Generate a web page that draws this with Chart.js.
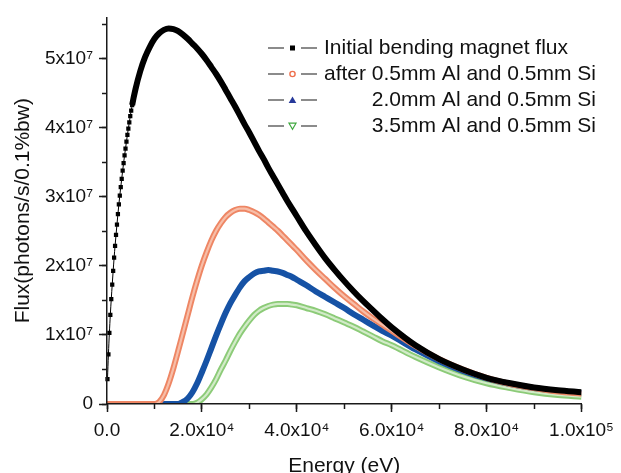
<!DOCTYPE html>
<html>
<head>
<meta charset="utf-8">
<title>Bending magnet flux</title>
<script src="https://cdn.jsdelivr.net/npm/chart.js@4.4.1/dist/chart.umd.min.js"></script>
<style>
  html, body { margin: 0; padding: 0; background: #fff; }
  #wrap { width: 621px; height: 473px; position: relative; }
</style>
</head>
<body>
<div id="wrap"><canvas id="fluxChart"></canvas></div>
<script>
// flux values are given in units of 1e7 photons/s/0.1%bw
const FLUX_UNIT = 1e7;

// initial bending magnet flux (squares are 200 eV apart at low energy)
const energyInitial = [
    100, 300, 500, 700, 900, 1100, 1300, 1500, 1700, 1900, 2100, 2300, 2500, 2700,
    2900, 3100, 3300, 3500, 3700, 3900, 4100, 4300, 4500, 4700, 4900, 5100, 5300,
    6000, 7000, 8000, 9000, 10000, 11000, 12000, 13000, 14000, 15000, 16000, 17000,
    18000, 19000, 20000, 21000, 22000, 23000, 24000, 25000, 26000, 27000, 28000,
    29000, 30000, 31000, 32000, 33000, 34000, 35000, 36000, 37000, 38000, 39000, 40000,
    42000, 44000, 46000, 48000, 50000, 52000, 54000, 56000, 58000, 60000,
    65000, 70000, 75000, 80000, 85000, 90000, 95000, 100000
];
const fluxInitial = [
    0.36, 0.72, 1.03, 1.29, 1.52, 1.73, 1.93, 2.12, 2.29, 2.45, 2.60, 2.75, 2.89, 3.02,
    3.14, 3.26, 3.38, 3.49, 3.60, 3.70, 3.80, 3.90, 3.99, 4.08, 4.17, 4.25, 4.33,
    4.56, 4.82, 5.02, 5.17, 5.29, 5.37, 5.42, 5.44, 5.43, 5.40, 5.35, 5.29,
    5.22, 5.15, 5.07, 4.98, 4.88, 4.78, 4.67, 4.55, 4.43, 4.31, 4.18,
    4.05, 3.93, 3.80, 3.67, 3.55, 3.42, 3.30, 3.18, 3.06, 2.94, 2.83, 2.72,
    2.50, 2.30, 2.11, 1.94, 1.78, 1.63, 1.49, 1.36, 1.23, 1.11,
    0.85, 0.65, 0.50, 0.38, 0.30, 0.24, 0.20, 0.17
];

// filtered spectra share one energy grid
const energyFiltered = [
    0, 10000, 11000, 12000, 13000, 14000, 15000, 16000, 17000, 18000, 19000, 20000,
    21000, 22000, 23000, 24000, 25000, 26000, 27000, 28000, 29000, 30000,
    31000, 32000, 33000, 34000, 35000, 36000, 37000, 38000, 39000, 40000,
    42000, 44000, 46000, 48000, 50000, 52000, 54000, 56000, 58000, 60000,
    65000, 70000, 75000, 80000, 85000, 90000, 95000, 100000
];
const fluxAl05 = [
    0, 0, 0.03, 0.13, 0.30, 0.52, 0.77, 1.03, 1.29, 1.55, 1.79, 2.01,
    2.20, 2.37, 2.51, 2.62, 2.71, 2.77, 2.81, 2.83, 2.83, 2.81,
    2.78, 2.74, 2.69, 2.63, 2.57, 2.51, 2.44, 2.37, 2.30, 2.23,
    2.08, 1.94, 1.81, 1.68, 1.56, 1.45, 1.34, 1.24, 1.15, 1.06,
    0.84, 0.65, 0.50, 0.38, 0.29, 0.23, 0.18, 0.15
];
const fluxAl20 = [
    0, 0, 0, 0, 0, 0, 0, 0.03, 0.08, 0.17, 0.30, 0.46,
    0.63, 0.81, 0.99, 1.16, 1.32, 1.46, 1.58, 1.69, 1.78, 1.84,
    1.89, 1.92, 1.93, 1.94, 1.93, 1.92, 1.90, 1.87, 1.84, 1.80,
    1.72, 1.63, 1.55, 1.47, 1.39, 1.30, 1.22, 1.14, 1.06, 0.99,
    0.79, 0.62, 0.48, 0.37, 0.29, 0.23, 0.19, 0.16
];
const fluxAl35 = [
    0, 0, 0, 0, 0, 0, 0, 0, 0, 0, 0.02, 0.07,
    0.14, 0.24, 0.36, 0.50, 0.63, 0.77, 0.90, 1.02, 1.12, 1.21,
    1.29, 1.35, 1.39, 1.42, 1.44, 1.45, 1.45, 1.45, 1.44, 1.43,
    1.39, 1.35, 1.30, 1.24, 1.18, 1.12, 1.05, 0.98, 0.91, 0.85,
    0.68, 0.53, 0.40, 0.30, 0.23, 0.17, 0.13, 0.105
];

const seriesNames = [
    'Initial bending magnet flux',
    'after 0.5mm Al and 0.5mm Si',
    '2.0mm Al and 0.5mm Si',
    '3.5mm Al and 0.5mm Si'
];
// axis ticks
const xTickValues = [0, 20000, 40000, 60000, 80000, 100000];
const xTickLabels = ['0.0', '2.0x10\u2074', '4.0x10\u2074', '6.0x10\u2074', '8.0x10\u2074', '1.0x10\u2075'];
const xMinorValues = [0, 10000, 20000, 30000, 40000, 50000, 60000, 70000, 80000, 90000, 100000];
const yTickValues = [0, 1e7, 2e7, 3e7, 4e7, 5e7];
const yTickLabels = ['0', '1x10\u2077', '2x10\u2077', '3x10\u2077', '4x10\u2077', '5x10\u2077'];
const yMinorValues = [0, 0.5e7, 1e7, 1.5e7, 2e7, 2.5e7, 3e7, 3.5e7, 4e7, 4.5e7, 5e7, 5.5e7];

const FONT = "'Liberation Sans', Arial, Helvetica, sans-serif";
const AXIS_COLOR = '#1a1a1a';
const TEXT_COLOR = '#111';
const SQUARE_LIMIT = 5300; // below this energy the black squares are seen one by one

const toPoints = (xs, ys) => xs.map((x, i) => ({ x: x, y: ys[i] * FLUX_UNIT }));
const fixedTicks = values => scale => { scale.ticks = values.map(v => ({ value: v })); };
// keep the bands from spilling under the x axis
const bandClip = { left: 6, top: 6, right: 0, bottom: 0 };

function band(data, color, width) {
    return {
        data: data,
        borderColor: color,
        borderWidth: width,
        pointRadius: 0,
        cubicInterpolationMode: 'monotone',
        clip: bandClip
    };
}

const datasets = [
    {
        data: toPoints(energyInitial, fluxInitial),
        borderColor: '#000',
        borderWidth: 6,
        segment: {
            borderWidth: c => energyInitial[c.p1DataIndex] <= SQUARE_LIMIT ? 1 : 6
        },
        pointStyle: 'rect',
        pointRadius: c => energyInitial[c.dataIndex] <= SQUARE_LIMIT ? 3 : 0,
        pointBackgroundColor: '#000',
        pointBorderWidth: 0,
        cubicInterpolationMode: 'monotone',
        clip: bandClip
    },
    // hollow circles -> light core inside an orange band
    band(toPoints(energyFiltered, fluxAl05), '#f7bea8', 2.2),
    band(toPoints(energyFiltered, fluxAl05), '#ee8664', 6),
    band(toPoints(energyFiltered, fluxAl20), '#1652a5', 6),
    // hollow down triangles -> light core inside a green band
    band(toPoints(energyFiltered, fluxAl35), '#d2ebc8', 2.2),
    band(toPoints(energyFiltered, fluxAl35), '#8ccb78', 6)
];

// legend drawn like the Origin one: "— marker —  text"
const legendMarkers = [
    (ctx, x, y) => { ctx.fillStyle = '#000'; ctx.fillRect(x - 2.5, y - 2.5, 5, 5); },
    (ctx, x, y) => {
        ctx.strokeStyle = '#ee6f4c'; ctx.lineWidth = 1.4;
        ctx.beginPath(); ctx.arc(x, y, 2.6, 0, Math.PI * 2); ctx.stroke();
    },
    (ctx, x, y) => {
        ctx.fillStyle = '#26399a';
        ctx.beginPath(); ctx.moveTo(x, y - 3.5); ctx.lineTo(x + 3.8, y + 3); ctx.lineTo(x - 3.8, y + 3);
        ctx.closePath(); ctx.fill();
    },
    (ctx, x, y) => {
        ctx.strokeStyle = '#3fa83f'; ctx.lineWidth = 1.2;
        ctx.beginPath(); ctx.moveTo(x - 3.5, y - 2.8); ctx.lineTo(x + 3.5, y - 2.8); ctx.lineTo(x, y + 3.2);
        ctx.closePath(); ctx.stroke();
    }
];

const legendPlugin = {
    id: 'originLegend',
    afterDraw(chart) {
        const ctx = chart.ctx;
        const rowY = [48, 74, 100, 126];
        const textX = 324;
        ctx.save();
        ctx.font = '21px ' + FONT;
        ctx.textBaseline = 'middle';
        ctx.fillStyle = TEXT_COLOR;
        // the last two rows are lined up on the right with the second one
        const rightEdge = textX + ctx.measureText(seriesNames[1]).width;
        seriesNames.forEach((name, i) => {
            const y = rowY[i];
            ctx.strokeStyle = '#666';
            ctx.lineWidth = 1.3;
            ctx.beginPath();
            ctx.moveTo(268, y); ctx.lineTo(284, y);
            ctx.moveTo(301, y); ctx.lineTo(317, y);
            ctx.stroke();
            legendMarkers[i](ctx, 292.5, y);
            ctx.fillStyle = TEXT_COLOR;
            if (i < 2) {
                ctx.textAlign = 'left';
                ctx.fillText(name, textX, y);
            } else {
                ctx.textAlign = 'right';
                ctx.fillText(name, rightEdge, y);
            }
        });
        ctx.restore();
    }
};

const tickFont = { family: FONT, size: 19 };
const titleFont = { family: FONT, size: 21 };

new Chart(document.getElementById('fluxChart'), {
    type: 'line',
    data: { datasets: datasets },
    options: {
        responsive: true,
        maintainAspectRatio: false,
        animation: false,
        devicePixelRatio: 1,
        events: [],
        layout: { padding: { left: 0, right: 34, top: 15, bottom: 0 } },
        plugins: {
            legend: { display: false },
            tooltip: { enabled: false }
        },
        scales: {
            x: {
                type: 'linear',
                position: 'bottom',
                weight: 1,
                min: 0,
                max: 100000,
                afterBuildTicks: fixedTicks(xTickValues),
                afterFit: s => { s.height = 69; },
                border: { display: true, color: AXIS_COLOR, width: 1.5, z: 1 },
                grid: { drawOnChartArea: false, tickLength: 8, tickWidth: 1.5, tickColor: AXIS_COLOR },
                ticks: {
                    autoSkip: false,
                    maxRotation: 0,
                    padding: 7,
                    color: TEXT_COLOR,
                    font: tickFont,
                    callback: (v, i) => xTickLabels[i]
                },
                title: {
                    display: true,
                    text: 'Energy (eV)',
                    color: TEXT_COLOR,
                    font: { family: FONT, size: 21, lineHeight: '14px' },
                    padding: { top: 0, bottom: 0 }
                }
            },
            // minor ticks on their own zero-height axis
            xMinor: {
                type: 'linear',
                position: 'bottom',
                weight: 0,
                min: 0,
                max: 100000,
                afterBuildTicks: fixedTicks(xMinorValues),
                afterFit: s => { s.height = 0; },
                border: { display: false },
                grid: { drawOnChartArea: false, tickLength: 5, tickWidth: 1.5, tickColor: AXIS_COLOR },
                ticks: { display: false }
            },
            y: {
                type: 'linear',
                position: 'left',
                weight: 1,
                min: 0,
                max: 5.6e7,
                afterBuildTicks: fixedTicks(yTickValues),
                afterFit: s => { s.width = 107; },
                border: { display: true, color: AXIS_COLOR, width: 1.5, z: 1 },
                grid: { drawOnChartArea: false, tickLength: 8, tickWidth: 1.5, tickColor: AXIS_COLOR },
                ticks: {
                    autoSkip: false,
                    padding: 6,
                    color: TEXT_COLOR,
                    font: tickFont,
                    callback: (v, i) => yTickLabels[i]
                },
                title: {
                    display: true,
                    text: 'Flux(photons/s/0.1%bw)',
                    color: TEXT_COLOR,
                    font: titleFont,
                    padding: { top: 11, bottom: 0 }
                }
            },
            yMinor: {
                type: 'linear',
                position: 'left',
                weight: 0,
                min: 0,
                max: 5.6e7,
                afterBuildTicks: fixedTicks(yMinorValues),
                afterFit: s => { s.width = 0; },
                border: { display: false },
                grid: { drawOnChartArea: false, tickLength: 5, tickWidth: 1.5, tickColor: AXIS_COLOR },
                ticks: { display: false }
            }
        }
    },
    plugins: [legendPlugin]
});
</script>
</body>
</html>
